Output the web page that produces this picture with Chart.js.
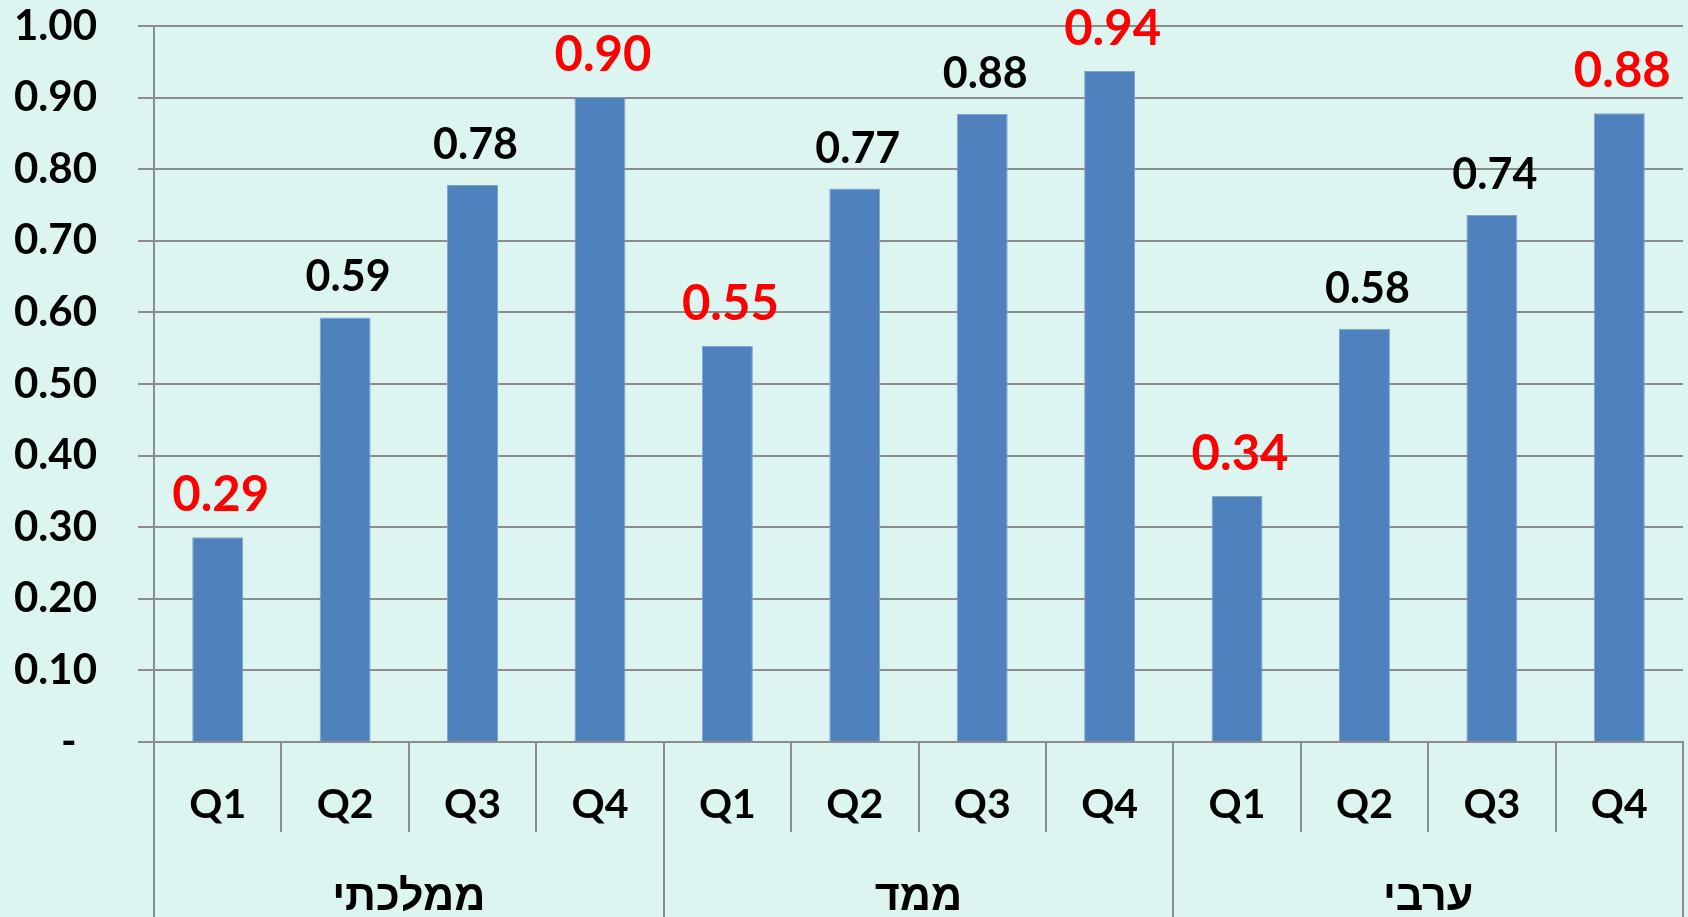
<!DOCTYPE html>
<html>
<head>
<meta charset="utf-8">
<script src="https://cdn.jsdelivr.net/npm/chart.js@4.4.1/dist/chart.umd.min.js"></script>
<style>
  html, body { margin: 0; padding: 0; background: #ddf5f1; overflow: hidden; }
  #c { display: block; background: #ddf5f1; }
</style>
</head>
<body>
<canvas id="c" width="1688" height="917"></canvas>
<script>
// ---- data ----
const quarters = ['Q1', 'Q2', 'Q3', 'Q4', 'Q1', 'Q2', 'Q3', 'Q4', 'Q1', 'Q2', 'Q3', 'Q4'];
const groups = ['ממלכתי', 'ממד', 'ערבי'];
const values = [0.286, 0.593, 0.778, 0.901, 0.553, 0.773, 0.877, 0.937, 0.344, 0.577, 0.736, 0.878];
const highlighted = [true, false, false, true, true, false, false, true, true, false, false, true];
const yTickValues = [0, 0.1, 0.2, 0.3, 0.4, 0.5, 0.6, 0.7, 0.8, 0.9, 1.0];

const GRID = '#8c8c8c';
const LATIN = 'Lato, "Liberation Sans", "DejaVu Sans", sans-serif';
const HEB = '"Liberation Sans", "DejaVu Sans", sans-serif';

const valueLabels = {
  id: 'valueLabels',
  afterDatasetsDraw(chart) {
    const ctx = chart.ctx;
    const meta = chart.getDatasetMeta(0);
    ctx.save();
    ctx.textAlign = 'center';
    ctx.textBaseline = 'alphabetic';
    meta.data.forEach((bar, i) => {
      const red = highlighted[i];
      ctx.font = 'bold ' + (red ? 49 : 43) + 'px ' + LATIN;
      ctx.fillStyle = red ? '#ff0000' : '#000000';
      ctx.fillText(values[i].toFixed(2), bar.x + 3, bar.y - 26);
    });
    ctx.restore();
  }
};

function start() {
  new Chart(document.getElementById('c'), {
    type: 'bar',
    data: {
      labels: quarters,
      datasets: [{
        data: values,
        backgroundColor: '#4f81bd',
        borderColor: '#7ea3d1',
        borderWidth: 1,
        categoryPercentage: 1.0,
        barPercentage: 0.4,
        xAxisID: 'x',
        yAxisID: 'y'
      }]
    },
    options: {
      responsive: false,
      devicePixelRatio: 1,
      animation: false,
      layout: { padding: { top: 26, right: 5, left: 0, bottom: 0 } },
      plugins: { legend: { display: false }, tooltip: { enabled: false }, title: { display: false } },
      scales: {
        y: {
          position: 'left',
          min: 0,
          max: 1,
          afterBuildTicks(scale) { scale.ticks = yTickValues.map(v => ({ value: v })); },
          afterFit(scale) { scale.width = 154; scale.paddingTop = 0; scale.paddingBottom = 0; },
          ticks: {
            padding: 41,
            color: '#000',
            font: { family: LATIN, size: 42, weight: 'bold' },
            callback: (v) => (Math.abs(v) < 1e-9 ? '-  ' : Number(v).toFixed(2))
          },
          grid: { color: GRID, lineWidth: 2, drawTicks: true, tickLength: 16 },
          border: { display: true, color: GRID, width: 2 }
        },
        x: {
          position: 'bottom',
          weight: 0,
          offset: true,
          afterFit(scale) { scale.height = 90; },
          ticks: {
            autoSkip: false, maxRotation: 0, minRotation: 0,
            padding: -52,
            color: '#000',
            font: { family: LATIN, size: 41, weight: 'bold' }
          },
          grid: { offset: true, drawOnChartArea: false, drawTicks: true, tickLength: 90, color: GRID, lineWidth: 2 },
          border: { display: true, color: GRID, width: 2 }
        },
        x2: {
          type: 'category',
          labels: groups,
          position: 'bottom',
          weight: 1,
          offset: true,
          afterFit(scale) { scale.height = 85; },
          ticks: {
            autoSkip: false, maxRotation: 0, minRotation: 0,
            padding: -45,
            color: '#000',
            font: { family: HEB, size: 43, weight: 'bold' }
          },
          grid: { offset: true, drawOnChartArea: false, drawTicks: true, tickLength: 85, color: GRID, lineWidth: 2 },
          border: { display: false }
        }
      }
    },
    plugins: [valueLabels]
  });
}

if (document.fonts && document.fonts.load) {
  Promise.all([
    document.fonts.load('bold 41px Lato'),
    document.fonts.load('bold 43px "Liberation Sans"')
  ]).then(start, start);
} else {
  start();
}
</script>
</body>
</html>
